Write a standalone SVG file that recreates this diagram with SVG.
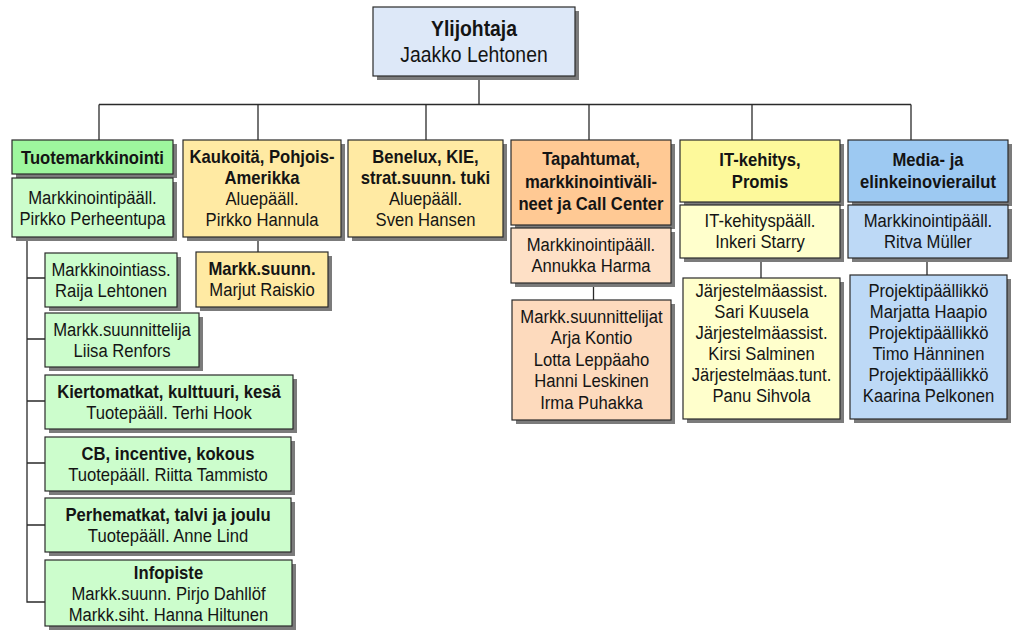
<svg xmlns="http://www.w3.org/2000/svg" width="1012" height="632" viewBox="0 0 1012 632">
<style>
.sh{fill:#7b7b7b}
.b{stroke:#2a2a2a;stroke-width:1.2}
text{font-family:"Liberation Sans",Arial,sans-serif;font-size:18.5px;fill:#141414}
.bd{font-weight:bold}
.top{font-size:21.5px}
.con line,.con path{stroke:#2a2a2a;stroke-width:1.3;fill:none}
.gH{fill:#9ef79e}.gB{fill:#ccfdcc}
.yH{fill:#ffeaa3}
.oH{fill:#ffc994}.oB{fill:#fee0c6}.oS{fill:#fddabd}
.lH{fill:#fdf99b}.lB{fill:#ffffcc}
.bH{fill:#9dc9f2}.bB{fill:#bdd9f6}
.tB{fill:#dde8f8}
</style>
<rect width="1012" height="632" fill="#ffffff"/>
<g class="con" id="connectors">
<line x1="479" y1="76" x2="479" y2="104.5"/>
<line x1="99" y1="104.5" x2="911" y2="104.5"/>
<line x1="99" y1="104.5" x2="99" y2="140"/>
<line x1="258" y1="104.5" x2="258" y2="140"/>
<line x1="426" y1="104.5" x2="426" y2="140"/>
<line x1="589" y1="104.5" x2="589" y2="140"/>
<line x1="752" y1="104.5" x2="752" y2="140"/>
<line x1="911" y1="104.5" x2="911" y2="140"/>
<line x1="258" y1="237" x2="258" y2="252"/>
<line x1="593.5" y1="283" x2="593.5" y2="300"/>
<line x1="761" y1="258" x2="761" y2="278"/>
<line x1="927" y1="258" x2="927" y2="275"/>
<path d="M27 237V602H45M27 278H45M27 339H45M27 401H45M27 463H45M27 525H45"/>
</g>
<g id="n-top">
<rect class="sh" x="377" y="11" width="202" height="69"/>
<rect class="b tB" x="373" y="7" width="202" height="69"/>
<text class="top" text-anchor="middle" transform="translate(474 0) scale(.9 1)"><tspan class="bd" x="0" y="36">Ylijohtaja</tspan><tspan x="0" y="62">Jaakko Lehtonen</tspan></text>
</g>
<g id="n-tuote">
<rect class="sh" x="16" y="144" width="161" height="34"/>
<rect class="b gH" x="12" y="140" width="161" height="34"/>
<text text-anchor="middle" transform="translate(92.5 0) scale(.9 1)"><tspan class="bd" x="0" y="164">Tuotemarkkinointi</tspan></text>
</g>
<g id="n-tuote-p">
<rect class="sh" x="16" y="182" width="161" height="59"/>
<rect class="b gB" x="12" y="178" width="161" height="59"/>
<text text-anchor="middle" transform="translate(92.5 0) scale(.9 1)"><tspan x="0" y="204">Markkinointipääll.</tspan><tspan x="0" y="225">Pirkko Perheentupa</tspan></text>
</g>
<g id="n-s1">
<rect class="sh" x="49" y="257" width="132" height="54"/>
<rect class="b gB" x="45" y="253" width="132" height="54"/>
<text text-anchor="middle" transform="translate(111 0) scale(.9 1)"><tspan x="0" y="276">Markkinointiass.</tspan><tspan x="0" y="297">Raija Lehtonen</tspan></text>
</g>
<g id="n-s2">
<rect class="sh" x="49" y="317" width="154" height="54"/>
<rect class="b gB" x="45" y="313" width="154" height="54"/>
<text text-anchor="middle" transform="translate(122 0) scale(.9 1)"><tspan x="0" y="336">Markk.suunnittelija</tspan><tspan x="0" y="357">Liisa Renfors</tspan></text>
</g>
<g id="n-s3">
<rect class="sh" x="49" y="379" width="248" height="54"/>
<rect class="b gB" x="45" y="375" width="248" height="54"/>
<text text-anchor="middle" transform="translate(169 0) scale(.9 1)"><tspan class="bd" x="0" y="398">Kiertomatkat, kulttuuri, kesä</tspan><tspan x="0" y="419">Tuotepääll. Terhi Hook</tspan></text>
</g>
<g id="n-s4">
<rect class="sh" x="49" y="441" width="246" height="54"/>
<rect class="b gB" x="45" y="437" width="246" height="54"/>
<text text-anchor="middle" transform="translate(168 0) scale(.9 1)"><tspan class="bd" x="0" y="460">CB, incentive, kokous</tspan><tspan x="0" y="481">Tuotepääll. Riitta Tammisto</tspan></text>
</g>
<g id="n-s5">
<rect class="sh" x="49" y="502" width="246" height="54"/>
<rect class="b gB" x="45" y="498" width="246" height="54"/>
<text text-anchor="middle" transform="translate(168 0) scale(.9 1)"><tspan class="bd" x="0" y="521">Perhematkat, talvi ja joulu</tspan><tspan x="0" y="542">Tuotepääll. Anne Lind</tspan></text>
</g>
<g id="n-s6">
<rect class="sh" x="49" y="564" width="247" height="66"/>
<rect class="b gB" x="45" y="560" width="247" height="66"/>
<text text-anchor="middle" transform="translate(168.5 0) scale(.9 1)"><tspan class="bd" x="0" y="579">Infopiste</tspan><tspan x="0" y="600">Markk.suunn. Pirjo Dahllöf</tspan><tspan x="0" y="621">Markk.siht. Hanna Hiltunen</tspan></text>
</g>
<g id="n-kauko">
<rect class="sh" x="187" y="144" width="158" height="97"/>
<rect class="b yH" x="183" y="140" width="158" height="97"/>
<text text-anchor="middle" transform="translate(262 0) scale(.9 1)"><tspan class="bd" x="0" y="163">Kaukoitä, Pohjois-</tspan><tspan class="bd" x="0" y="184">Amerikka</tspan><tspan x="0" y="205">Aluepääll.</tspan><tspan x="0" y="226.5">Pirkko Hannula</tspan></text>
</g>
<g id="n-kauko-s">
<rect class="sh" x="200" y="256" width="132" height="55"/>
<rect class="b yH" x="196" y="252" width="132" height="55"/>
<text text-anchor="middle" transform="translate(262 0) scale(.9 1)"><tspan class="bd" x="0" y="275.5">Markk.suunn.</tspan><tspan x="0" y="296.5">Marjut Raiskio</tspan></text>
</g>
<g id="n-benelux">
<rect class="sh" x="352" y="144" width="155" height="97"/>
<rect class="b yH" x="348" y="140" width="155" height="97"/>
<text text-anchor="middle" transform="translate(425.5 0) scale(.9 1)"><tspan class="bd" x="0" y="163">Benelux, KIE,</tspan><tspan class="bd" x="0" y="184">strat.suunn. tuki</tspan><tspan x="0" y="205">Aluepääll.</tspan><tspan x="0" y="226.5">Sven Hansen</tspan></text>
</g>
<g id="n-tapahtumat">
<rect class="sh" x="515" y="144" width="160" height="85"/>
<rect class="b oH" x="511" y="140" width="160" height="85"/>
<text text-anchor="middle" transform="translate(591 0) scale(.9 1)"><tspan class="bd" x="0" y="165.5">Tapahtumat,</tspan><tspan class="bd" x="0" y="188">markkinointiväli-</tspan><tspan class="bd" x="0" y="210.5">neet ja Call Center</tspan></text>
</g>
<g id="n-tapahtumat-p">
<rect class="sh" x="515" y="232" width="160" height="55"/>
<rect class="b oB" x="511" y="228" width="160" height="55"/>
<text text-anchor="middle" transform="translate(591 0) scale(.9 1)"><tspan x="0" y="251.5">Markkinointipääll.</tspan><tspan x="0" y="272.5">Annukka Harma</tspan></text>
</g>
<g id="n-tapahtumat-s">
<rect class="sh" x="516" y="304" width="159" height="120"/>
<rect class="b oS" x="512" y="300" width="159" height="120"/>
<text text-anchor="middle" transform="translate(591.5 0) scale(.9 1)"><tspan x="0" y="323.5">Markk.suunnittelijat</tspan><tspan x="0" y="344.5">Arja Kontio</tspan><tspan x="0" y="366">Lotta Leppäaho</tspan><tspan x="0" y="387.5">Hanni Leskinen</tspan><tspan x="0" y="409">Irma Puhakka</tspan></text>
</g>
<g id="n-it">
<rect class="sh" x="684" y="144" width="160" height="62"/>
<rect class="b lH" x="680" y="140" width="160" height="62"/>
<text text-anchor="middle" transform="translate(760 0) scale(.9 1)"><tspan class="bd" x="0" y="166.5">IT-kehitys,</tspan><tspan class="bd" x="0" y="188">Promis</tspan></text>
</g>
<g id="n-it-p">
<rect class="sh" x="684" y="209" width="160" height="53"/>
<rect class="b lB" x="680" y="205" width="160" height="53"/>
<text text-anchor="middle" transform="translate(760 0) scale(.9 1)"><tspan x="0" y="227.5">IT-kehityspääll.</tspan><tspan x="0" y="248.5">Inkeri Starry</tspan></text>
</g>
<g id="n-it-s">
<rect class="sh" x="687" y="282" width="157" height="141"/>
<rect class="b lB" x="683" y="278" width="157" height="141"/>
<text text-anchor="middle" transform="translate(761.5 0) scale(.9 1)"><tspan x="0" y="297.5">Järjestelmäassist.</tspan><tspan x="0" y="318.5">Sari Kuusela</tspan><tspan x="0" y="339.5">Järjestelmäassist.</tspan><tspan x="0" y="360.5">Kirsi Salminen</tspan><tspan x="0" y="381.5">Järjestelmäas.tunt.</tspan><tspan x="0" y="402.5">Panu Sihvola</tspan></text>
</g>
<g id="n-media">
<rect class="sh" x="852" y="144" width="160" height="62"/>
<rect class="b bH" x="848" y="140" width="160" height="62"/>
<text text-anchor="middle" transform="translate(928 0) scale(.9 1)"><tspan class="bd" x="0" y="166.5">Media- ja</tspan><tspan class="bd" x="0" y="188">elinkeinovierailut</tspan></text>
</g>
<g id="n-media-p">
<rect class="sh" x="852" y="209" width="160" height="53"/>
<rect class="b bB" x="848" y="205" width="160" height="53"/>
<text text-anchor="middle" transform="translate(928 0) scale(.9 1)"><tspan x="0" y="227.5">Markkinointipääll.</tspan><tspan x="0" y="248.5">Ritva Müller</tspan></text>
</g>
<g id="n-media-s">
<rect class="sh" x="854" y="279" width="157" height="144"/>
<rect class="b bB" x="850" y="275" width="157" height="144"/>
<text text-anchor="middle" transform="translate(928.5 0) scale(.9 1)"><tspan x="0" y="297.5">Projektipäällikkö</tspan><tspan x="0" y="318.5">Marjatta Haapio</tspan><tspan x="0" y="339.5">Projektipäällikkö</tspan><tspan x="0" y="360.5">Timo Hänninen</tspan><tspan x="0" y="381.5">Projektipäällikkö</tspan><tspan x="0" y="402.5">Kaarina Pelkonen</tspan></text>
</g>
</svg>
